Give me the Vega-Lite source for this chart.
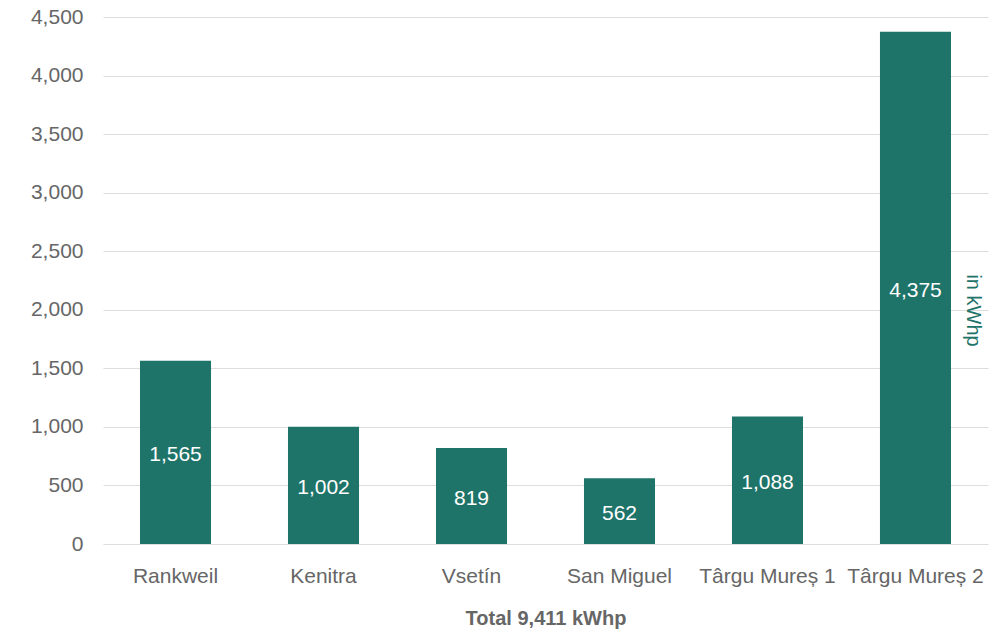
{
  "$schema": "https://vega.github.io/schema/vega-lite/v6.json",
  "width": 885,
  "height": 527,
  "autosize": {"type": "none"},
  "padding": {"left": 103, "top": 17, "right": 16, "bottom": 89},
  "background": "white",
  "config": {
    "view": {"stroke": null},
    "font": "Liberation Sans",
    "axis": {"labelFont": "Liberation Sans", "titleFont": "Liberation Sans"}
  },
  "data": {
    "values": [
      {"site": "Rankweil", "kwhp": 1565},
      {"site": "Kenitra", "kwhp": 1002},
      {"site": "Vsetín", "kwhp": 819},
      {"site": "San Miguel", "kwhp": 562},
      {"site": "Târgu Mureș 1", "kwhp": 1088},
      {"site": "Târgu Mureș 2", "kwhp": 4375}
    ]
  },
  "encoding": {
    "x": {
      "field": "site",
      "type": "nominal",
      "sort": null,
      "scale": {"paddingInner": 0.52, "paddingOuter": 0.25},
      "axis": {
        "title": "Total 9,411 kWhp",
        "titleFontSize": 20,
        "titleFontWeight": "bold",
        "titleColor": "#666666",
        "titlePadding": 22,
        "labelAngle": 0,
        "labelFontSize": 21,
        "labelColor": "#666666",
        "labelPadding": 21,
        "ticks": false,
        "domain": false
      }
    }
  },
  "layer": [
    {
      "mark": {"type": "bar", "color": "#1f7469"},
      "encoding": {
        "y": {
          "field": "kwhp",
          "type": "quantitative",
          "scale": {"domain": [0, 4500], "nice": false},
          "axis": {
            "title": null,
            "values": [0, 500, 1000, 1500, 2000, 2500, 3000, 3500, 4000, 4500],
            "format": ",d",
            "labelFontSize": 21,
            "labelColor": "#666666",
            "labelPadding": 20,
            "ticks": false,
            "domain": false,
            "gridColor": "#dddddd",
            "gridWidth": 1.2
          }
        }
      }
    },
    {
      "transform": [{"calculate": "datum.kwhp / 2", "as": "labelpos"}],
      "mark": {"type": "text", "color": "white", "fontSize": 21, "baseline": "middle", "dy": 3},
      "encoding": {
        "y": {
          "field": "labelpos",
          "type": "quantitative",
          "scale": {"domain": [0, 4500], "nice": false},
          "axis": {
            "orient": "right",
            "title": "in kWhp",
            "titleAngle": 90,
            "titleColor": "#1f7469",
            "titleFontSize": 20,
            "titleFontWeight": "normal",
            "titleX": -26,
            "titleY": 293,
            "titleBaseline": "bottom",
            "labels": false,
            "ticks": false,
            "domain": false,
            "grid": false
          }
        },
        "text": {"field": "kwhp", "type": "quantitative", "format": ","}
      }
    }
  ],
  "resolve": {"axis": {"y": "independent"}}
}
